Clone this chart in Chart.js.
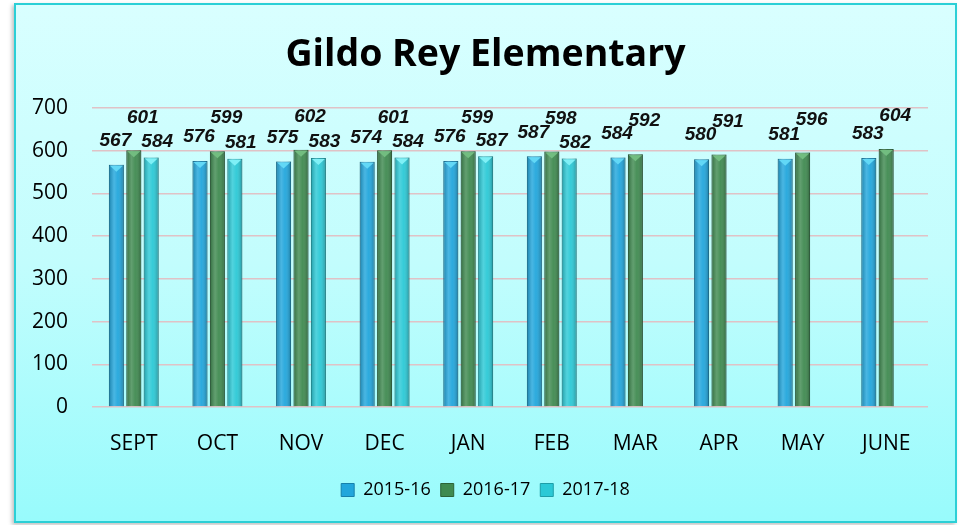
<!DOCTYPE html>
<html>
<head>
<meta charset="utf-8">
<script src="https://cdn.jsdelivr.net/npm/chart.js@4"></script>
<style>
  html, body { margin: 0; padding: 0; background: #fff; }
  body { width: 964px; height: 525px; position: relative; overflow: hidden; }
  #frame {
    position: absolute; left: 14px; top: 3px; width: 939px; height: 516px;
    border: 2px solid #2ccfd6;
    background: linear-gradient(to bottom, #d9ffff 0%, #c2fdfd 50%, #98fbfc 100%);
    box-shadow: -2px 2px 4px rgba(0,0,0,0.25);
  }
  #chart { display: block; }
</style>
</head>
<body>
<div id="frame"><canvas id="chart" width="939" height="516"></canvas></div>
<script>
Chart.defaults.font.family = "'Open Sans', sans-serif";
Chart.defaults.color = '#000';

const MONTHS = ['SEPT', 'OCT', 'NOV', 'DEC', 'JAN', 'FEB', 'MAR', 'APR', 'MAY', 'JUNE'];
const Y2015_16 = [567, 576, 575, 574, 576, 587, 584, 580, 581, 583];
const Y2016_17 = [601, 599, 602, 601, 599, 598, 592, 591, 596, 604];
const Y2017_18 = [584, 581, 583, 584, 587, 582, null, null, null, null];
const Y_TICKS = [0, 100, 200, 300, 400, 500, 600, 700];

// bar shading + pyramid tip, like the office 3D cylinder look
const shadeBars = {
  id: 'shadeBars',
  afterDatasetsDraw(chart) {
    const c = chart.ctx;
    chart.data.datasets.forEach((ds, i) => {
      const meta = chart.getDatasetMeta(i);
      meta.data.forEach((bar, j) => {
        if (ds.data[j] == null) return;
        const l = bar.x - bar.width / 2, r = bar.x + bar.width / 2;
        const g = c.createLinearGradient(l, 0, r, 0);
        g.addColorStop(0, 'rgba(0,0,0,0.22)');
        g.addColorStop(0.35, 'rgba(255,255,255,0.18)');
        g.addColorStop(0.6, 'rgba(255,255,255,0.05)');
        g.addColorStop(1, 'rgba(0,0,0,0.28)');
        c.save();
        c.fillStyle = g;
        c.fillRect(l, bar.y, bar.width, bar.base - bar.y);
        c.fillStyle = ds.tipColor;
        c.beginPath();
        c.moveTo(l + 1, bar.y + 1);
        c.lineTo(r - 1, bar.y + 1);
        c.lineTo(bar.x, bar.y + 7);
        c.closePath();
        c.fill();
        c.restore();
      });
    });
  }
};

const valueLabels = {
  id: 'valueLabels',
  afterDatasetsDraw(chart) {
    const c = chart.ctx;
    c.save();
    c.font = "italic bold 19px 'Liberation Sans', sans-serif";
    c.fillStyle = '#111';
    c.textAlign = 'center';
    c.textBaseline = 'middle';
    chart.data.datasets.forEach((ds, i) => {
      chart.getDatasetMeta(i).data.forEach((bar, j) => {
        const v = ds.data[j];
        if (v == null) return;
        c.fillText(String(v), bar.x + ds.labelDx, bar.y - ds.labelDy);
      });
    });
    c.restore();
  }
};

new Chart(document.getElementById('chart'), {
  type: 'bar',
  data: {
    labels: MONTHS,
    datasets: [
      {
        label: '2015-16',
        data: Y2015_16,
        backgroundColor: '#21a6dc',
        borderColor: '#1680ab',
        tipColor: '#62d8f6',
        labelDx: -1, labelDy: 24,
      },
      {
        label: '2016-17',
        data: Y2016_17,
        backgroundColor: '#3f8a50',
        borderColor: '#2c6338',
        tipColor: '#72bd80',
        labelDx: 9, labelDy: 33,
      },
      {
        label: '2017-18',
        data: Y2017_18,
        backgroundColor: '#2bc9d6',
        borderColor: '#1d9ea8',
        tipColor: '#7ff0f6',
        labelDx: 6, labelDy: 16,
      }
    ].map(d => ({ ...d, borderWidth: 1, categoryPercentage: 0.625, barPercentage: 0.86 }))
  },
  options: {
    responsive: false,
    animation: false,
    layout: { padding: { left: 13, right: 13, top: 0, bottom: 12 } },
    plugins: {
      title: {
        display: true,
        text: 'Gildo Rey Elementary',
        color: '#000',
        font: { size: 37.5, weight: 'bold' },
        padding: { top: 28, bottom: 30 },
      },
      legend: {
        position: 'bottom',
        labels: {
          color: '#000',
          font: { size: 18 },
          boxWidth: 13,
          boxHeight: 13,
          padding: 10,
        }
      },
      tooltip: { enabled: false },
    },
    scales: {
      x: {
        grid: { display: false },
        border: { display: false },
        ticks: { color: '#000', font: { size: 21 }, padding: 16 },
        afterFit: s => { s.height = 64; },
      },
      y: {
        min: 0,
        max: 700,
        afterBuildTicks: s => { s.ticks = Y_TICKS.map(v => ({ value: v })); },
        grid: { color: '#e0c2c6', lineWidth: 1.5, drawTicks: false },
        border: { display: false },
        ticks: { color: '#000', font: { size: 21 }, padding: 24 },
        afterFit: s => { s.width = 63; },
      },
      // empty right gutter so the plot ends where the original does
      gutter: {
        position: 'right',
        min: 0,
        max: 700,
        grid: { display: false },
        border: { display: false },
        ticks: { display: false },
        afterFit: s => { s.width = 14; },
      }
    }
  },
  plugins: [shadeBars, valueLabels]
});
</script>
</body>
</html>
